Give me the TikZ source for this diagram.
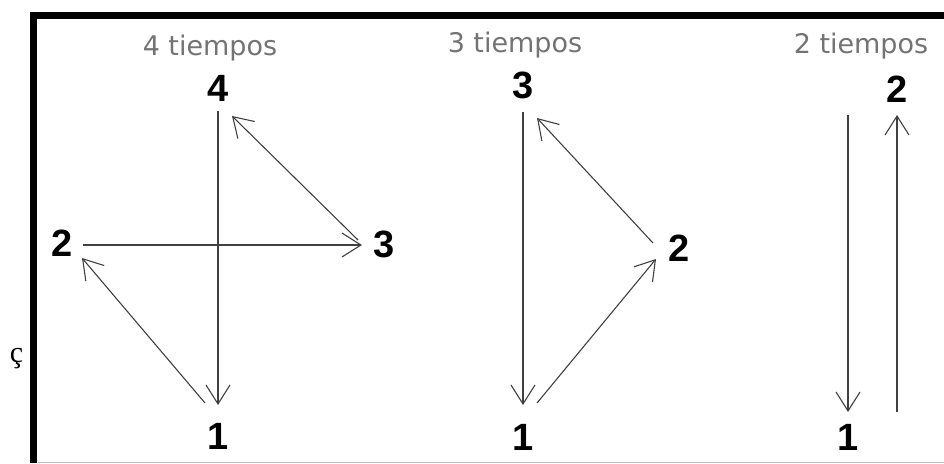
\documentclass[tikz,border=0pt]{standalone}
\usepackage{fontspec}
\setmainfont{Liberation Sans}
\newfontfamily\titlefont{DejaVu Sans}
\newfontfamily\markfont{Liberation Serif}
\usetikzlibrary{arrows.meta,calc}

\begin{document}
\begin{tikzpicture}[
  x=1pt, y=-1pt,
  beat/.style={inner sep=0pt, font=\fontsize{38}{38}\selectfont\bfseries},
  title/.style={anchor=base, text=black!55, font=\titlefont\fontsize{27}{27}\selectfont},
  arrow/.style={-{Straight Barb[length=19pt,width=24pt]}, line width=1.1pt, draw=black!75}
]
\useasboundingbox (0,0) rectangle (944,463);

% frame
\draw[line width=7.5pt] (944,15.5) -- (33.7,15.5) -- (33.7,463);
\draw[black!25, line width=1pt] (37.5,462) -- (944,462);
\node[anchor=base, font=\markfont\fontsize{30}{30}\selectfont] (mark) at (16.5,362) {ç};

% 4 tiempos
\node[title] (tfour) at (210,55) {4 tiempos};
\node[beat] (f4) at (218,88) {4};
\node[beat] (f1) at (218,436) {1};
\node[beat] (f2) at (62,243) {2};
\node[beat] (f3) at (384,244) {3};

\draw[arrow] ($(f4)+(0,23)$) -- ($(f1)+(0,-31)$);
\draw[arrow] ($(f2)+(21,2)$) -- ($(f3)+(-22,1)$);
\draw[arrow] ($(f3)+(-26,-4)$) -- ($(f4)+(14,28)$);
\draw[arrow] ($(f1)+(-13,-33)$) -- ($(f2)+(20,15)$);

% 3 tiempos
\node[title] (tthree) at (515,52) {3 tiempos};
\node[beat] (t3) at (523,85) {3};
\node[beat] (t1) at (523,437) {1};
\node[beat] (t2) at (679,248) {2};

\draw[arrow] ($(t3)+(0,27)$) -- ($(t1)+(0,-32)$);
\draw[arrow] ($(t1)+(14,-34)$) -- ($(t2)+(-23,11)$);
\draw[arrow] ($(t2)+(-26,-5)$) -- ($(t3)+(14,33)$);

% 2 tiempos
\node[title] (ttwo) at (861,53) {2 tiempos};
\node[beat] (d2) at (897,89) {2};
\node[beat] (d1) at (848,437) {1};
\coordinate (dtop) at (848,115);
\coordinate (dbot) at (897,412);

\draw[arrow] (dtop) -- ($(d1)+(0,-25)$);
\draw[arrow] (dbot) -- ($(d2)+(0,26)$);
\end{tikzpicture}
\end{document}
